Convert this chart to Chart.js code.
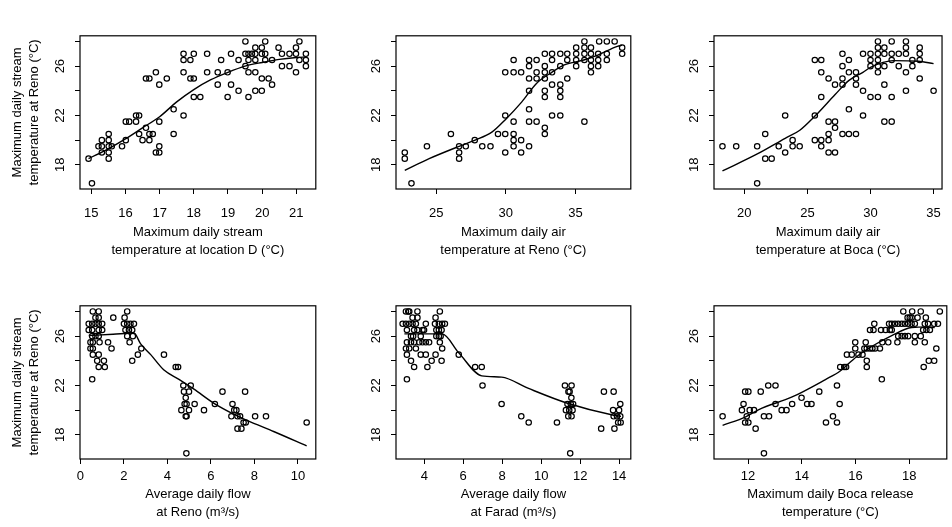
<!DOCTYPE html>
<html>
<head>
<meta charset="utf-8">
<script src="https://cdn.jsdelivr.net/npm/chart.js@4.4.1/dist/chart.umd.min.js"></script>
<style>
  body { margin: 0; background: #fff; width: 952px; height: 527px; position: relative; overflow: hidden; }
  canvas { position: absolute; }
</style>
</head>
<body>
<canvas id="p1"></canvas>
<canvas id="p2"></canvas>
<canvas id="p3"></canvas>
<canvas id="p4"></canvas>
<canvas id="p5"></canvas>
<canvas id="p6"></canvas>
<script>
// --- data: [x, y] pairs, y = max daily stream temp at Reno (°C) ---

const yTicks = [18, 20, 22, 24, 26, 28];
const yTickLabels = [18, 22, 26];

// stream temperature at location D
const locDPoints = [[14.92,18.5],[15.02,16.5],[15.21,19.5],[15.31,19.5],[15.31,20],[15.31,19],[15.51,20.5],[15.51,20],[15.51,19.5],[15.51,19],[15.51,18.5],[15.6,19.5],[15.9,19.5],[16.01,20],[16.01,21.5],[16.11,21.5],[16.31,21.5],[16.31,22],[16.4,22],[16.4,20.5],[16.5,20],[16.6,21],[16.7,20.5],[16.8,20.5],[16.7,20],[16.6,25],[16.7,25],[16.89,25.5],[16.89,19],[16.99,19],[16.99,19.5],[16.99,21.5],[16.99,24.5],[17.21,25],[17.41,22.5],[17.41,20.5],[17.7,22],[17.7,25.5],[17.7,26.5],[17.7,27],[17.9,26.5],[17.9,25],[18.0,25],[18.0,27],[18.0,23.5],[18.19,23.5],[18.39,27],[18.39,25.5],[18.7,25.5],[18.7,24.5],[18.8,26.5],[18.99,25.5],[18.99,23.5],[19.09,24.5],[19.09,27],[19.31,24],[19.31,26.5],[19.51,28],[19.51,27],[19.51,26],[19.6,26.5],[19.6,27],[19.6,25.5],[19.6,23.5],[19.7,27],[19.8,27.5],[19.8,27],[19.8,26.5],[19.8,25.5],[19.8,24],[19.99,27.5],[19.99,27],[19.99,25],[19.99,24],[20.09,28],[20.09,27],[20.09,26.5],[20.19,25],[20.29,26.5],[20.29,24.5],[20.48,27.5],[20.58,27],[20.58,26],[20.8,27],[20.8,26],[20.99,27],[20.99,27.5],[20.99,25.5],[21.09,28],[21.09,26.5],[21.28,27],[21.28,26.5],[21.28,26]];
const locDSmooth = [[14.92,18.5],[15.5,19.3],[16,20.1],[16.5,21.0],[17,21.9],[17.5,23.1],[18,24.1],[18.5,24.9],[19,25.5],[19.5,26.0],[20,26.3],[20.5,26.55],[21,26.7],[21.3,26.75]];

// air temperature at Reno
const airRenoPoints = [[22.75,19],[22.75,18.5],[23.23,16.5],[24.34,19.5],[26.06,20.5],[26.65,19.5],[26.65,19],[26.65,18.5],[27.13,19.5],[27.77,20],[28.31,19.5],[28.9,19.5],[29.44,20.5],[29.96,20.5],[29.96,22],[29.96,19],[29.96,25.5],[30.56,26.5],[30.56,25.5],[30.56,21.5],[30.56,20.5],[30.56,20],[30.56,19.5],[31.1,25.5],[31.1,20],[31.1,19],[31.67,26.5],[31.67,26],[31.67,25],[31.67,24],[31.67,22.5],[31.67,21.5],[31.67,19.5],[32.21,26.5],[32.21,25.5],[32.21,25],[32.21,21.5],[32.8,27],[32.8,26],[32.8,25.5],[32.8,25],[32.8,24],[32.8,23.5],[32.8,21],[32.8,20.5],[33.32,27],[33.32,26.5],[33.32,25.5],[33.32,24.5],[33.32,22],[33.91,27],[33.91,26],[33.91,24.5],[33.91,24],[33.91,23.5],[33.91,22],[34.41,27],[34.41,26.5],[34.41,25],[35.05,27.5],[35.05,27],[35.05,26.5],[35.05,26],[35.64,28],[35.64,27.5],[35.64,27],[35.64,26.5],[35.64,21.5],[36.11,27.5],[36.11,27],[36.11,26.5],[36.11,26],[36.11,25.5],[36.63,27],[36.63,26.5],[36.63,26],[36.7,28],[37.25,28],[37.25,27],[37.25,26.5],[37.81,28],[38.35,27.5],[38.35,27]];
const airRenoSmooth = [[22.75,17.55],[24.5,18.5],[26.65,19.5],[27.8,20.0],[29.0,20.65],[30.0,21.7],[31.15,23.1],[32.2,24.6],[33.3,25.5],[34.2,26.1],[35.6,26.5],[36.6,26.9],[38.0,27.6],[38.35,27.7]];

// air temperature at Boca
const airBocaPoints = [[18.27,19.5],[19.36,19.5],[21.02,19.5],[21.02,16.5],[21.66,18.5],[22.17,18.5],[21.66,20.5],[22.73,19.5],[23.24,22],[23.24,19],[23.83,20],[23.83,19.5],[24.39,19.5],[25.59,22],[25.59,26.5],[25.59,20],[26.1,26.5],[26.1,25.5],[26.1,23.5],[26.1,20],[26.1,19.5],[26.68,25],[26.68,21.5],[26.68,20.5],[26.68,20],[26.68,19],[27.19,24.5],[27.19,21.5],[27.19,21],[27.19,19],[27.78,27],[27.78,26],[27.78,25],[27.78,24.5],[27.78,20.5],[28.29,26.5],[28.29,25.5],[28.29,22.5],[28.29,20.5],[28.85,25.5],[28.85,25],[28.85,24.5],[28.85,20.5],[29.41,27],[29.41,24],[29.41,22],[30.0,27],[30.0,26.5],[30.0,26],[30.0,23.5],[30.59,28],[30.59,27.5],[30.59,27],[30.59,26.5],[30.59,26],[30.59,25.5],[30.59,23.5],[31.1,27.5],[31.1,27],[31.1,26],[31.1,24.5],[31.1,21.5],[31.68,28],[31.68,27],[31.68,26.5],[31.68,23.5],[31.68,21.5],[32.24,27],[32.24,26],[32.81,28],[32.81,27.5],[32.81,27],[32.81,25.5],[32.81,24],[33.32,26.5],[33.32,26],[33.9,27.5],[33.9,27],[33.9,26.5],[33.9,25],[35.0,24]];
const airBocaSmooth = [[18.27,17.5],[21.07,18.9],[23.24,20.15],[24.4,20.8],[25.6,21.95],[27.2,23.7],[28.3,24.85],[29.4,25.5],[30.0,25.9],[31.0,26.3],[31.8,26.45],[33.8,26.4],[35.0,26.2]];

// flow at Reno
const flowRenoPoints = [[0.57,28],[0.84,28],[0.38,27],[0.54,27],[0.69,27],[0.84,27],[1.0,27],[0.69,27.5],[0.84,27.5],[0.38,26.5],[0.54,26.5],[1.0,26.5],[0.84,26.5],[0.54,26],[0.69,26],[0.84,26],[0.46,25.5],[0.57,25.5],[0.88,25.5],[0.46,25],[0.57,25],[0.57,24.5],[0.84,24.5],[0.77,24],[1.08,24],[0.84,23.5],[1.12,23.5],[0.54,22.5],[1.27,25.5],[1.43,25],[1.51,27.5],[2.15,28],[2.03,27.5],[2.0,27],[2.15,27],[2.3,27],[2.46,27],[2.07,26.5],[2.23,26.5],[2.38,26.5],[2.15,26],[2.41,26],[2.26,25.5],[2.38,24],[2.64,24.5],[2.8,25],[3.84,24.5],[4.38,23.5],[4.49,23.5],[4.73,22],[5.07,22],[4.76,21.5],[4.99,21.5],[4.84,21],[4.88,20.5],[4.79,20.5],[4.64,20],[4.99,20],[4.84,19.5],[4.88,19.5],[5.25,20.5],[4.87,16.5],[5.68,20],[6.18,20.5],[6.53,21.5],[6.99,20.5],[7.07,20],[7.17,20],[6.94,19.5],[7.22,19.5],[7.34,19.5],[7.22,18.5],[7.4,18.5],[7.5,19],[7.6,19],[7.57,21.5],[8.03,19.5],[8.53,19.5],[10.4,19]];
const flowRenoSmooth = [[0.38,26.05],[1.5,26.15],[2.46,26.25],[2.76,25.4],[3.23,24.5],[3.84,23.25],[4.53,22.5],[5.22,21.7],[6.14,20.55],[7.07,19.65],[7.68,19.15],[8.91,18.25],[10.4,17.1]];

// flow at Farad
const flowFaradPoints = [[3.06,28],[3.18,28],[3.23,28],[2.89,27],[3.06,27],[3.23,27],[3.4,27],[3.57,27],[3.4,27.5],[3.65,28],[3.65,27.5],[3.11,26.5],[3.48,26.5],[3.65,26.5],[3.32,26],[3.43,26],[3.11,25.5],[3.32,25.5],[3.48,25.5],[3.06,25],[3.23,25],[3.57,25],[3.11,24.5],[3.32,24],[3.48,23.5],[3.11,22.5],[3.74,25.5],[3.91,25.5],[4.08,25.5],[4.25,25.5],[3.82,26],[3.91,26.5],[3.99,26.5],[4.08,27],[3.82,24.5],[4.08,24.5],[4.16,23.5],[4.38,24],[4.58,27.5],[4.55,27],[4.75,27],[4.92,27],[5.06,27],[4.62,26.5],[4.75,26.5],[4.89,26.5],[4.62,26],[4.75,26],[4.84,26],[4.8,28],[4.58,24.5],[4.8,25.5],[4.92,25],[4.89,24],[5.77,24.5],[6.61,23.5],[6.95,23.5],[6.99,22],[7.97,20.5],[8.98,19.5],[9.36,19],[10.81,19],[11.22,22],[11.56,22],[11.4,21.5],[11.46,21.5],[11.55,21],[11.35,20.5],[11.52,20.5],[11.64,20.5],[11.27,20],[11.44,20],[11.61,20],[11.39,19.5],[11.56,19.5],[11.49,16.5],[13.08,18.5],[13.76,18.5],[13.22,21.5],[13.72,21.5],[14.06,20.5],[13.69,20],[14.0,20],[13.72,19.5],[13.89,19.5],[14.06,19.5],[13.95,19],[14.08,19]];
const flowFaradSmooth = [[2.98,26.18],[4.92,26.18],[5.77,24.65],[6.95,22.78],[7.97,22.68],[9.32,21.78],[11.35,20.56],[13.72,19.59],[14.1,19.5]];

// Boca release temperature
const releasePoints = [[11.05,19.5],[11.83,20.5],[11.77,20],[11.89,21.5],[12.01,21.5],[11.95,19.5],[11.89,19],[12.01,19],[12.06,20],[12.22,20],[12.28,18.5],[12.47,21.5],[12.59,19.5],[12.78,19.5],[12.59,16.5],[12.75,22],[13.02,22],[13.02,20.5],[13.25,20],[13.43,20],[13.64,20.5],[13.99,21],[14.2,20.5],[14.36,20.5],[14.65,21.5],[14.9,19],[15.16,19.5],[15.31,22],[15.31,19],[15.41,20.5],[15.43,23.5],[15.58,23.5],[15.65,23.5],[15.68,24.5],[15.86,24.5],[15.99,25.5],[15.99,25],[16.11,24.5],[16.26,24.5],[16.38,25.5],[16.33,25],[16.42,25],[16.54,25],[16.63,25],[16.73,25],[16.42,24],[16.42,23.5],[16.54,26.5],[16.67,26.5],[16.7,27],[16.91,25],[16.98,22.5],[16.95,26.5],[17.12,26.5],[17.28,26.5],[17.0,25.5],[17.22,25.5],[17.25,27],[17.35,27],[17.47,27],[17.59,27],[17.72,27],[17.84,27],[17.96,27],[18.09,27],[18.21,27],[17.35,26.5],[17.56,25.5],[17.59,26],[17.72,26],[17.84,26],[17.96,26],[17.78,28],[18.11,28],[17.94,27.5],[18.02,27.5],[18.09,27.5],[18.21,25.5],[18.21,26],[18.43,28],[18.31,27.5],[18.43,26],[18.52,26.5],[18.64,26.5],[18.77,26.5],[18.58,27],[18.7,27],[18.62,27.5],[18.54,23.5],[18.58,25.5],[18.73,24],[18.93,24],[19.01,25],[18.93,27],[19.07,27],[19.14,28]];
const releaseSmooth = [[11.05,18.77],[11.91,19.46],[12.4,20.05],[13.64,21.07],[14.88,22.48],[15.43,23.17],[15.73,23.75],[16.11,24.45],[16.6,25.16],[17.35,26.05],[18.09,26.7],[18.7,26.75],[18.95,26.7]];

const yTitle = ['Maximum daily stream', 'temperature at Reno (°C)'];

// --- chart setup ---
const FONT = "'Liberation Sans', Arial, sans-serif";

// draws the closed frame round the plot area, R style
const framePlugin = {
  id: 'frame',
  afterDatasetsDraw(chart) {
    const a = chart.chartArea;
    const ctx = chart.ctx;
    ctx.save();
    ctx.strokeStyle = '#000';
    ctx.lineWidth = 1.2;
    ctx.strokeRect(a.left, a.top, a.right - a.left, a.bottom - a.top);
    ctx.restore();
  }
};

function makePanel(p) {
  const padTop = 6, padRight = 4;
  const yW = p.yTitle ? 80 : 40;
  const xH = p.xH;
  const cv = document.getElementById(p.id);
  cv.width = yW + (p.box[2] - p.box[0]) + padRight;
  cv.height = padTop + (p.box[3] - p.box[1]) + xH;
  cv.style.left = (p.box[0] - yW) + 'px';
  cv.style.top = (p.box[1] - padTop) + 'px';

  new Chart(cv, {
    type: 'scatter',
    data: {
      datasets: [
        {
          data: p.points.map(d => ({ x: d[0], y: d[1] })),
          pointStyle: 'circle',
          pointRadius: 2.7,
          pointBorderWidth: 1.2,
          borderColor: '#000',
          backgroundColor: 'rgba(0,0,0,0)'
        },
        {
          data: p.smooth.map(d => ({ x: d[0], y: d[1] })),
          showLine: true,
          pointRadius: 0,
          borderColor: '#000',
          borderWidth: 1.4,
          cubicInterpolationMode: 'monotone'
        }
      ]
    },
    options: {
      responsive: false,
      animation: false,
      events: [],
      layout: { padding: { top: padTop, right: padRight, left: 0, bottom: 0 } },
      plugins: { legend: { display: false }, tooltip: { enabled: false } },
      scales: {
        x: {
          type: 'linear',
          bounds: 'data',
          min: p.xMin,
          max: p.xMax,
          afterBuildTicks: s => { s.ticks = p.xTicks.map(v => ({ value: v })); },
          afterFit: s => { s.height = xH; },
          grid: { drawOnChartArea: false, drawTicks: true, tickLength: 5, color: '#000', lineWidth: 1 },
          border: { display: false },
          ticks: {
            color: '#000', autoSkip: false, maxRotation: 0, padding: p.xPad,
            font: { family: FONT, size: 13 },
            callback: v => String(v)
          },
          title: {
            display: true, text: p.xTitle, color: '#000',
            font: { family: FONT, size: 13, lineHeight: 1.38 },
            padding: { top: 0, bottom: 0 }
          }
        },
        y: {
          type: 'linear',
          bounds: 'data',
          min: 16.04,
          max: 28.46,
          afterBuildTicks: s => { s.ticks = yTicks.map(v => ({ value: v })); },
          afterFit: s => { s.width = yW; },
          grid: { drawOnChartArea: false, drawTicks: true, tickLength: 5, color: '#000', lineWidth: 1 },
          border: { display: false },
          ticks: {
            color: '#000', autoSkip: false, minRotation: 90, maxRotation: 90,
            crossAlign: 'center', padding: 7,
            font: { family: FONT, size: 13 },
            callback: v => yTickLabels.includes(v) ? String(v) : ''
          },
          title: {
            display: !!p.yTitle, text: p.yTitle || '', color: '#000',
            font: { family: FONT, size: 13, lineHeight: 1.38 },
            padding: { top: 8, bottom: 0 }
          }
        }
      }
    },
    plugins: [framePlugin]
  });
}

makePanel({ id: 'p1', box: [80, 27, 317, 189], xH: 70, xPad: 12, xMin: 14.67, xMax: 21.57,
  xTicks: [15, 16, 17, 18, 19, 20, 21], points: locDPoints, smooth: locDSmooth,
  xTitle: ['Maximum daily stream', 'temperature at location D (°C)'], yTitle: yTitle });
makePanel({ id: 'p2', box: [396, 27, 632, 189], xH: 70, xPad: 12, xMin: 22.12, xMax: 38.97,
  xTicks: [25, 30, 35], points: airRenoPoints, smooth: airRenoSmooth,
  xTitle: ['Maximum daily air', 'temperature at Reno (°C)'] });
makePanel({ id: 'p3', box: [714, 27, 949, 189], xH: 70, xPad: 12, xMin: 17.6, xMax: 35.67,
  xTicks: [20, 25, 30, 35], points: airBocaPoints, smooth: airBocaSmooth,
  xTitle: ['Maximum daily air', 'temperature at Boca (°C)'] });
makePanel({ id: 'p4', box: [80, 297, 317, 459], xH: 62, xPad: 5, xMin: -0.02, xMax: 10.82,
  xTicks: [0, 2, 4, 6, 8, 10], points: flowRenoPoints, smooth: flowRenoSmooth,
  xTitle: ['Average daily flow', 'at Reno (m³/s)'], yTitle: yTitle });
makePanel({ id: 'p5', box: [396, 297, 632, 459], xH: 62, xPad: 5, xMin: 2.55, xMax: 14.6,
  xTicks: [4, 6, 8, 10, 12, 14], points: flowFaradPoints, smooth: flowFaradSmooth,
  xTitle: ['Average daily flow', 'at Farad (m³/s)'] });
makePanel({ id: 'p6', box: [714, 297, 948, 459], xH: 62, xPad: 5, xMin: 10.73, xMax: 19.4,
  xTicks: [12, 14, 16, 18], points: releasePoints, smooth: releaseSmooth,
  xTitle: ['Maximum daily Boca release', 'temperature (°C)'] });
</script>
</body>
</html>
